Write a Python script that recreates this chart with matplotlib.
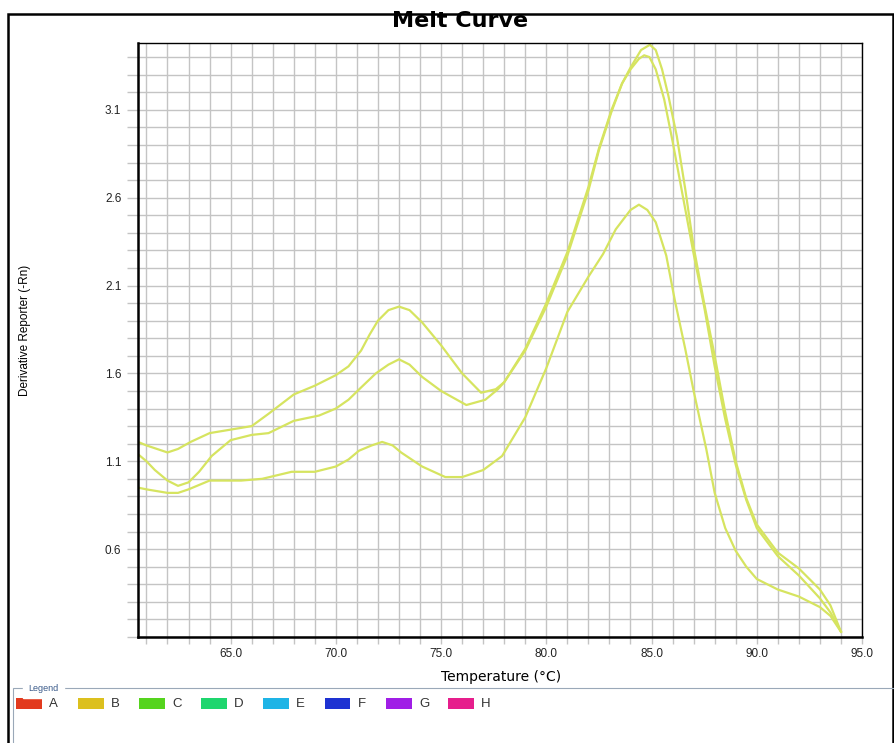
import numpy as np
import matplotlib
matplotlib.use('Agg')
import matplotlib.pyplot as plt
from matplotlib.patches import Rectangle
from matplotlib.ticker import MultipleLocator

plt.rcParams['font.family'] = ['Liberation Sans', 'DejaVu Sans']

# melt curves (temperature, derivative reporter)
temp_a = [60.6, 61.0, 61.5, 62.0, 62.5, 63.1, 64.0, 65.0, 66.0, 66.8, 68.0, 69.0, 70.0,
          70.6, 71.2, 71.6, 72.0, 72.5, 73.0, 73.5, 74.1, 75.0, 76.0, 76.9, 77.6, 78.0,
          79.0, 80.0, 81.0, 82.0, 82.5, 83.1, 83.6, 84.0, 84.4, 84.65, 84.9, 85.2, 85.6,
          86.0, 86.5, 87.0, 87.5, 88.0, 88.5, 89.0, 89.5, 90.0, 91.0, 92.0, 93.0, 93.5, 94.0]
val_a = [1.21, 1.19, 1.17, 1.15, 1.17, 1.21, 1.26, 1.28, 1.30, 1.37, 1.48, 1.53, 1.59,
         1.64, 1.73, 1.82, 1.90, 1.96, 1.98, 1.96, 1.89, 1.76, 1.60, 1.49, 1.51, 1.55,
         1.74, 2.00, 2.29, 2.66, 2.88, 3.10, 3.25, 3.33, 3.39, 3.41, 3.40, 3.33, 3.16,
         2.92, 2.60, 2.28, 1.98, 1.64, 1.34, 1.08, 0.88, 0.72, 0.56, 0.45, 0.32, 0.24, 0.13]

temp_b = [60.6, 61.0, 61.4, 62.0, 62.5, 63.0, 63.5, 64.1, 65.0, 66.0, 66.8, 68.0, 69.2,
          70.0, 70.6, 71.2, 71.9, 72.5, 73.0, 73.5, 74.1, 75.0, 76.2, 77.1, 77.7, 78.0,
          79.0, 80.0, 81.0, 82.0, 82.5, 83.1, 83.6, 84.0, 84.5, 84.92, 85.2, 85.5, 85.8,
          86.2, 86.6, 87.0, 87.5, 88.0, 88.5, 89.0, 89.5, 90.0, 91.0, 92.0, 93.0, 93.5, 94.0]
val_b = [1.14, 1.10, 1.05, 0.99, 0.96, 0.98, 1.04, 1.13, 1.22, 1.25, 1.26, 1.33, 1.36,
         1.40, 1.45, 1.52, 1.60, 1.65, 1.68, 1.65, 1.58, 1.50, 1.42, 1.45, 1.51, 1.55,
         1.73, 1.98, 2.27, 2.64, 2.87, 3.09, 3.25, 3.34, 3.44, 3.47, 3.44, 3.33, 3.18,
         2.95, 2.65, 2.32, 2.00, 1.70, 1.38, 1.10, 0.89, 0.74, 0.58, 0.49, 0.37, 0.28, 0.13]

temp_c = [60.6, 61.0, 62.0, 62.5, 63.0, 64.0, 65.0, 65.5, 66.5, 67.9, 69.0, 70.0, 70.6,
          71.1, 71.7, 72.2, 72.7, 73.1, 74.1, 75.2, 76.0, 77.0, 77.9, 79.0, 80.0, 81.0,
          82.0, 82.7, 83.3, 84.0, 84.4, 84.8, 85.2, 85.7, 86.1, 86.6, 87.0, 87.6, 88.0,
          88.5, 89.0, 89.5, 90.0, 91.0, 92.0, 93.0, 93.5, 94.0]
val_c = [0.95, 0.94, 0.92, 0.92, 0.94, 0.99, 0.99, 0.99, 1.00, 1.04, 1.04, 1.07, 1.11,
         1.16, 1.19, 1.21, 1.19, 1.15, 1.07, 1.01, 1.01, 1.05, 1.13, 1.35, 1.63, 1.95,
         2.15, 2.28, 2.42, 2.53, 2.56, 2.53, 2.46, 2.27, 2.02, 1.74, 1.50, 1.17, 0.92,
         0.72, 0.59, 0.50, 0.43, 0.37, 0.33, 0.27, 0.22, 0.13]

legend_names = ['A', 'B', 'C', 'D', 'E', 'F', 'G', 'H']
legend_colors = ['#e23a1e', '#dcc01e', '#55d41e', '#1ed66e', '#1eb4e6', '#1e32d2', '#a01ee6', '#e61e8c']

line_color = '#d6e460'
grid_color = '#c4c4c4'

fig = plt.figure(figsize=(8.94, 7.43), dpi=100)
ax = fig.add_axes([0.1544, 0.1427, 0.8098, 0.7994])

for t, v in [(temp_a, val_a), (temp_b, val_b), (temp_c, val_c)]:
    ax.plot(t, v, color=line_color, linewidth=1.6, solid_joinstyle='round')

ax.set_xlim(60.6, 95.0)
ax.set_ylim(0.1, 3.48)
ax.xaxis.set_minor_locator(MultipleLocator(1))
ax.yaxis.set_minor_locator(MultipleLocator(0.1))
ax.set_xticks(np.arange(65, 96, 5))
ax.set_xticklabels(['%.1f' % x for x in np.arange(65, 96, 5)])
ax.set_yticks(np.arange(0.6, 3.2, 0.5))
ax.set_yticklabels(['%.1f' % y for y in np.arange(0.6, 3.2, 0.5)])
ax.grid(which='both', color=grid_color, linewidth=1.0)
ax.set_axisbelow(True)
ax.tick_params(which='both', color=grid_color, labelsize=8.5, width=1, labelcolor='#222222')
ax.tick_params(axis='x', which='both', length=5, pad=3)
ax.tick_params(axis='y', which='both', length=8, pad=4)
for s in ['top', 'right']:
    ax.spines[s].set_linewidth(1.0)
for s in ['left', 'bottom']:
    ax.spines[s].set_linewidth(1.8)

fig.text(0.515, 0.972, 'Melt Curve', ha='center', va='center', fontsize=16,
         fontweight='bold', family='DejaVu Sans')
fig.text(0.56, 0.089, 'Temperature (°C)', ha='center', va='center', fontsize=10,
         family='DejaVu Sans')
fig.text(0.028, 0.555, 'Derivative Reporter (-Rn)', ha='center', va='center',
         rotation=90, fontsize=8.5, family=['Liberation Sans Narrow', 'Liberation Sans'])

# outer frame and legend panel
fig.add_artist(Rectangle((0.009, -0.01), 0.99, 0.991, transform=fig.transFigure,
                         fill=False, edgecolor='black', linewidth=1.8))
fig.add_artist(Rectangle((0.014, -0.01), 0.99, 0.084, transform=fig.transFigure,
                         fill=False, edgecolor='#9aa8b8', linewidth=0.8))
fig.text(0.032, 0.074, 'Legend', ha='left', va='center', fontsize=6.5, color='#3a5a8a',
         backgroundcolor='white')
x0 = 0.018
for name, col in zip(legend_names, legend_colors):
    fig.add_artist(Rectangle((x0, 0.046), 0.029, 0.014, transform=fig.transFigure,
                             facecolor=col, edgecolor='none'))
    fig.text(x0 + 0.037, 0.052, name, ha='left', va='center', fontsize=9.5, color='#333333')
    x0 += 0.069

plt.savefig('out.png', dpi=100)
